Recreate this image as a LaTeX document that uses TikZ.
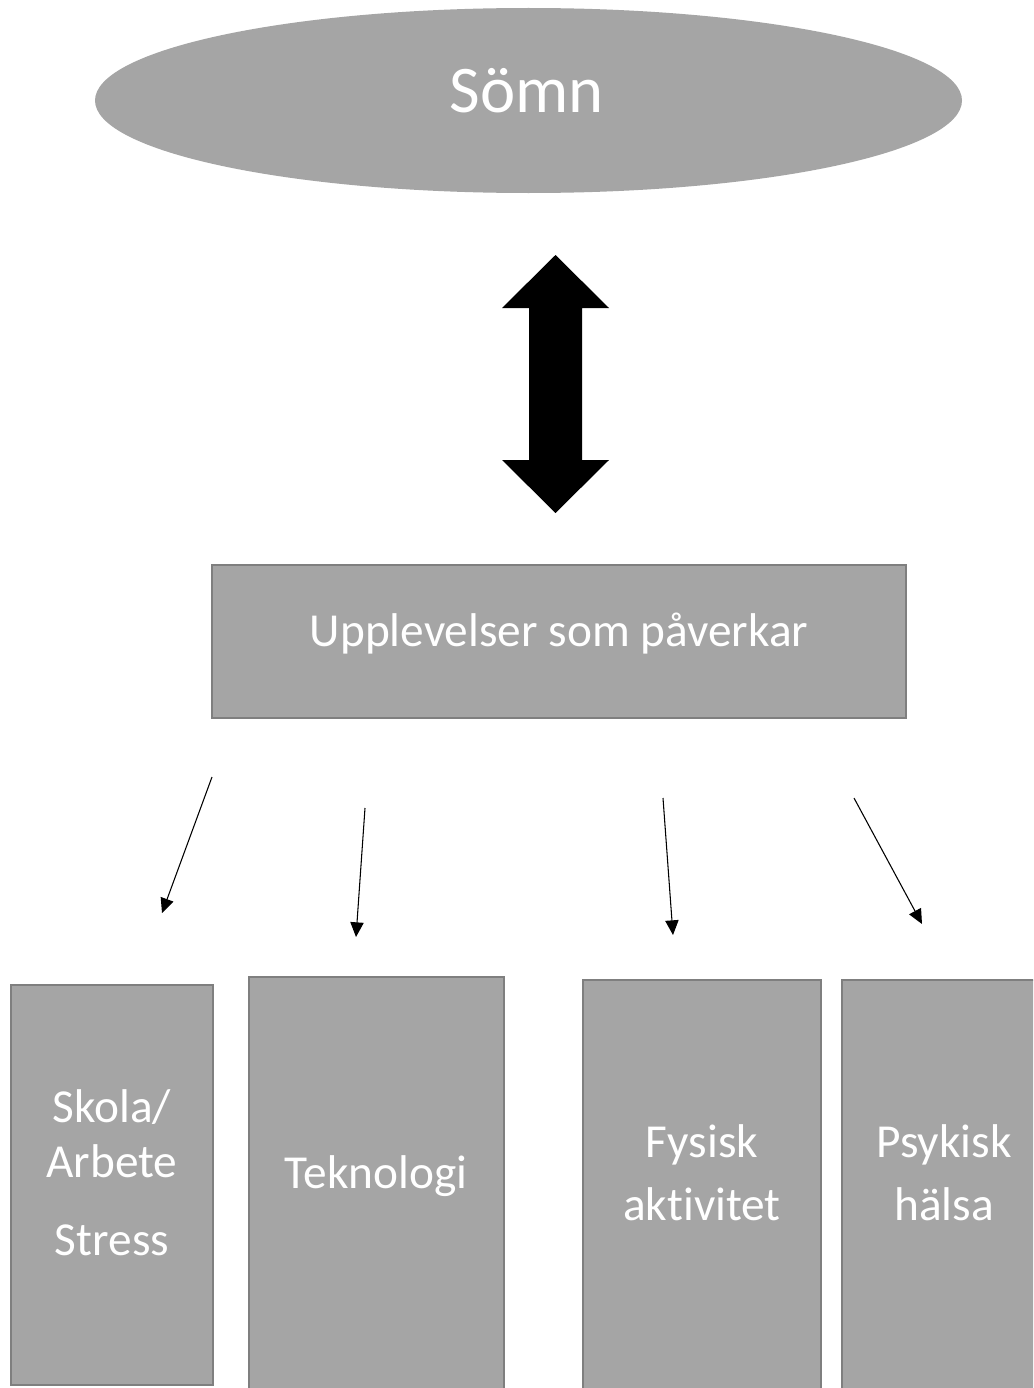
\documentclass[tikz,border=0pt]{standalone}
\usepackage{fontspec}
\setmainfont{Carlito}[Ligatures=NoCommon]
\usetikzlibrary{shapes.geometric,arrows.meta}
\definecolor{boxfill}{HTML}{A5A5A5}
\definecolor{boxline}{HTML}{7F7F7F}
\tikzset{
  box/.style={draw=boxline,fill=boxfill,line width=1.6pt,rectangle,inner sep=0pt,outer sep=0pt,anchor=north west},
  oval/.style={fill=boxfill,ellipse,inner sep=0pt,outer sep=0pt},
  txt/.style={text=white,inner sep=0pt,anchor=base,font=\fontsize{35.5}{42}\selectfont},
  bigtxt/.style={text=white,inner sep=0pt,anchor=base,font=\fontsize{50}{60}\selectfont},
  thinarrow/.style={line width=0.8pt,-{Triangle[length=11pt,width=10pt]}},
}
\begin{document}
\begin{tikzpicture}[x=0.75pt,y=-0.75pt]
\useasboundingbox (0,0) rectangle (1033,1388);
\clip (0,0) rectangle (1033,1388);
\fill[white] (0,0) rectangle (1033,1388);

% top ellipse
\node[oval,minimum width=650.25pt,minimum height=138.75pt] (somn) at (528.5,100.5) {};
\node[bigtxt] (somntxt) at (527,113) {Sömn};

% double arrow
\coordinate (dtop) at (555.5,255);
\coordinate (dbot) at (555.5,513);
\fill[black] (dtop) -- (609,308) -- (582,308) -- (582,460) -- (609,460) -- (dbot)
  -- (502,460) -- (529,460) -- (529,308) -- (502,308) -- cycle;

% middle box
\node[box,minimum width=520.5pt,minimum height=114.75pt] (upp) at (212,565) {};
\node[txt] (upptxt) at (559,646) {Upplevelser som påverkar};

% bottom boxes
\node[box,minimum width=151.5pt,minimum height=300pt] (b1) at (11,985) {};
\node[box,minimum width=191.25pt,minimum height=317.25pt] (b2) at (249,977) {};
\node[box,minimum width=178.5pt,minimum height=315pt] (b3) at (583,980) {};
\node[box,minimum width=170pt,minimum height=315pt] (b4) at (842,980) {};

\node[txt] (t1a) at (112,1122) {Skola/};
\node[txt] (t1b) at (112,1177) {Arbete};
\node[txt] (t1c) at (112,1255) {Stress};
\node[txt] (t2) at (376,1188) {Teknologi};
\node[txt] (t3a) at (702,1157) {Fysisk};
\node[txt] (t3b) at (702,1220) {aktivitet};
\node[txt] (t4a) at (944,1157) {Psykisk};
\node[txt] (t4b) at (944,1220) {hälsa};

% thin arrows
\coordinate (s1) at (212,777); \coordinate (e1) at (162,913);
\coordinate (s2) at (365,808); \coordinate (e2) at (356,937);
\coordinate (s3) at (663,798); \coordinate (e3) at (673,935);
\coordinate (s4) at (854,798); \coordinate (e4) at (922,924);
\draw[thinarrow] (s1) -- (e1);
\draw[thinarrow] (s2) -- (e2);
\draw[thinarrow] (s3) -- (e3);
\draw[thinarrow] (s4) -- (e4);
\end{tikzpicture}
\end{document}
